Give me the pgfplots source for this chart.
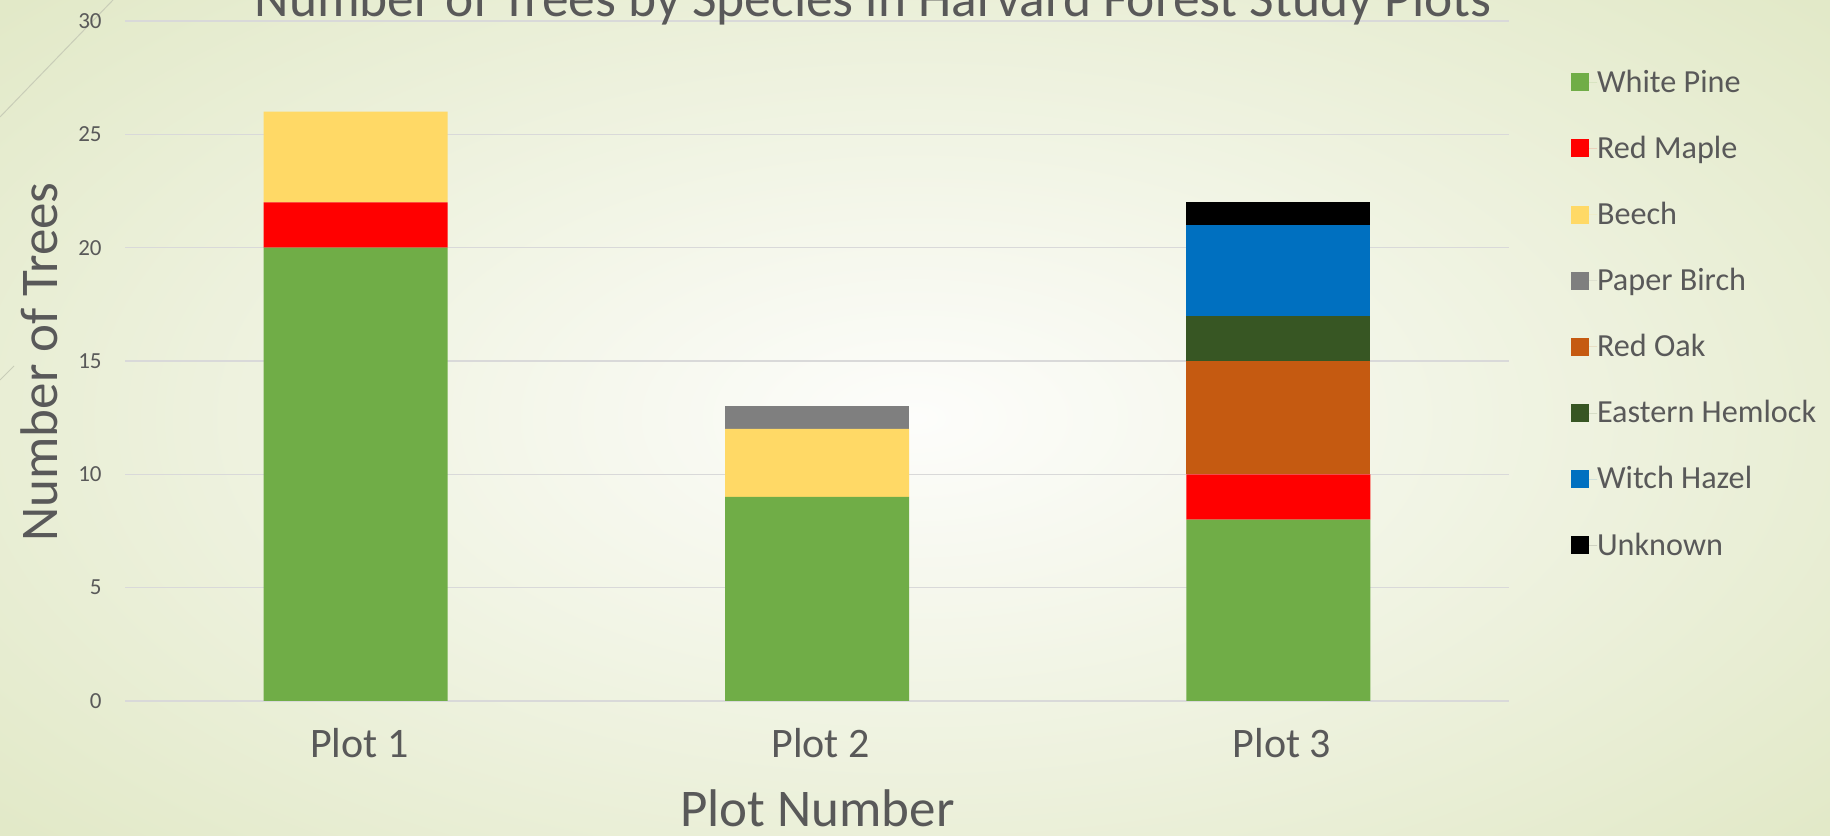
\documentclass[border=0pt]{standalone}
\usepackage{pgfplots}
\pgfplotsset{compat=1.18}
\usepackage{fontspec}
\setmainfont{Carlito}
\definecolor{txt}{HTML}{595959}
\definecolor{gridc}{HTML}{D9D9D9}
\definecolor{bgin}{HTML}{FDFDFB}
\definecolor{bgout}{HTML}{E2E9C8}
\definecolor{decor}{HTML}{C9CDB8}
\definecolor{cWP}{HTML}{70AD47}
\definecolor{cRM}{HTML}{FF0000}
\definecolor{cBE}{HTML}{FFD966}
\definecolor{cPB}{HTML}{7F7F7F}
\definecolor{cRO}{HTML}{C55A11}
\definecolor{cEH}{HTML}{375623}
\definecolor{cWH}{HTML}{0070C0}
\definecolor{cUN}{HTML}{000000}
\begin{document}
\begin{tikzpicture}
\path[use as bounding box] (0,0) rectangle (915bp,418bp);
\clip (0,0) rectangle (915bp,418bp);
\shade[inner color=bgin, outer color=bgout] (-150bp,-100bp) rectangle (1065bp,518bp);
\draw[decor, line width=0.5bp] (0,359.5bp) -- (56.5bp,418bp);
\draw[decor, line width=0.5bp] (0,228bp) -- (7bp,235bp);
\begin{axis}[
  at={(62.5bp,67.5bp)}, anchor=south west, scale only axis,
  width=692bp, height=340bp,
  ybar stacked, bar width=92bp,
  xmin=-0.5, xmax=2.5, ymin=0, ymax=30,
  xtick={0,1,2}, xticklabels={Plot 1,Plot 2,Plot 3},
  ytick={0,5,10,15,20,25,30},
  axis line style={draw=none}, major tick length=0pt,
  ymajorgrids, grid style={color=gridc, line width=0.75bp},
  tick label style={color=txt},
  /pgf/number format/assume math mode=true,
  xticklabel style={font=\fontsize{21bp}{25bp}\selectfont, anchor=base, inner sep=0pt, yshift=-28.5bp, xshift=1.75bp},
  yticklabel style={font=\fontsize{11.5bp}{14bp}\selectfont, anchor=east, inner sep=0pt, xshift=-11.5bp},
  legend cell align=left,
  legend style={at={(axis description cs:1.0448,0.924)}, anchor=north west, draw=none, fill=none,
    inner sep=0pt, outer sep=0pt, row sep=23.4bp, font=\fontsize{16.1bp}{19bp}\selectfont, text=txt,
    nodes={inner sep=0pt, text height=9.67bp, text depth=0pt}},
  legend image code/.code={\path (0,0) -- (13bp,0); \fill[#1, draw=none] (0,-4.5bp) rectangle (9bp,4.5bp);},
]
\addplot[fill=cWP, draw=none] coordinates {(0,20) (1,9) (2,8)};
\addplot[fill=cRM, draw=none] coordinates {(0,2) (1,0) (2,2)};
\addplot[fill=cBE, draw=none] coordinates {(0,4) (1,3) (2,0)};
\addplot[fill=cPB, draw=none] coordinates {(0,0) (1,1) (2,0)};
\addplot[fill=cRO, draw=none] coordinates {(0,0) (1,0) (2,5)};
\addplot[fill=cEH, draw=none] coordinates {(0,0) (1,0) (2,2)};
\addplot[fill=cWH, draw=none] coordinates {(0,0) (1,0) (2,4)};
\addplot[fill=cUN, draw=none] coordinates {(0,0) (1,0) (2,1)};
\legend{White Pine,Red Maple,Beech,Paper Birch,Red Oak,Eastern Hemlock,Witch Hazel,Unknown}
\end{axis}
\node[anchor=base, inner sep=0pt, text=txt, font=\fontsize{26.7bp}{30bp}\selectfont] at (436.5bp,409.5bp) {Number of Trees by Species in Harvard Forest Study Plots};
\node[rotate=90, anchor=base, inner sep=0pt, text=txt, font=\fontsize{26.5bp}{30bp}\selectfont] at (28.5bp,237bp) {Number of Trees};
\node[anchor=base, inner sep=0pt, text=txt, font=\fontsize{26.5bp}{30bp}\selectfont] at (408.75bp,5bp) {Plot Number};
\end{tikzpicture}
\end{document}
